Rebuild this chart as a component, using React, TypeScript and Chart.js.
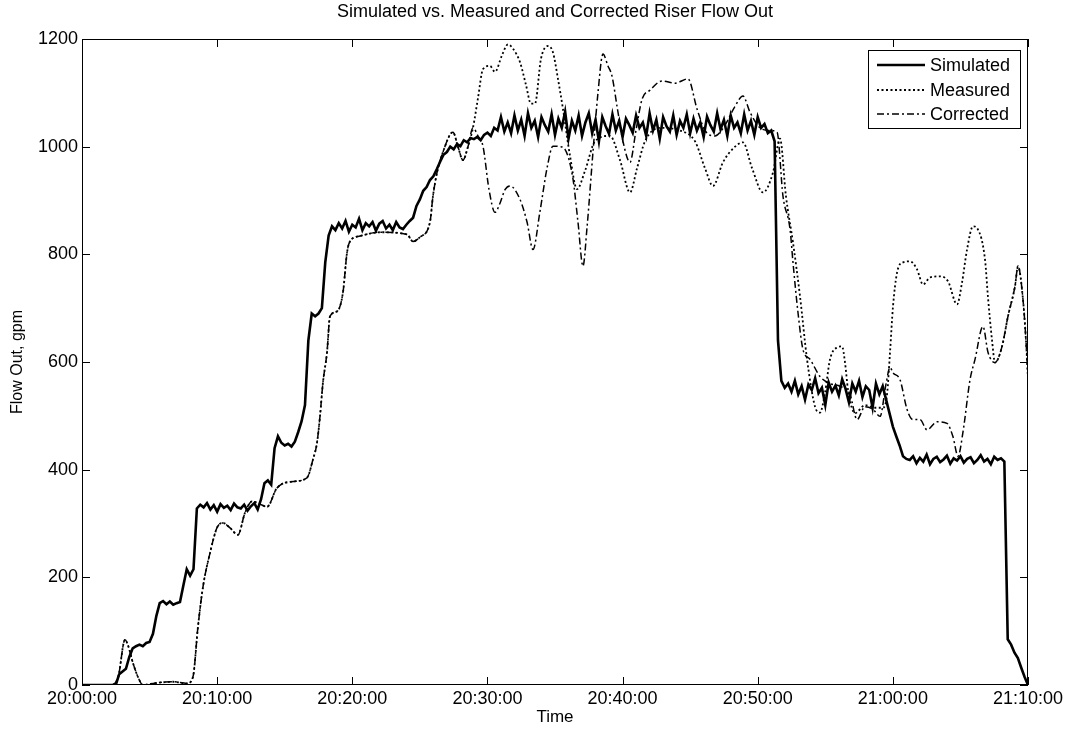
import React, { useEffect, useRef } from 'react';
import { Chart, registerables } from 'chart.js';

Chart.register(...registerables);

const FONT = "'Liberation Sans', Arial, Helvetica, sans-serif";

const chartTitle = 'Simulated vs. Measured and Corrected Riser Flow Out';
const xAxisTitle = 'Time';
const yAxisTitle = 'Flow Out, gpm';
const seriesNames = ['Simulated', 'Measured', 'Corrected'];

// x axis: minutes after 20:00:00
const xTickMinutes = [0, 10, 20, 30, 40, 50, 60, 70];
const yTickValues = [0, 200, 400, 600, 800, 1000, 1200];

// Simulated flow, sampled every 0.25 min from 20:00:00
const SIM_STEP_MIN = 0.25;
const simRampLow = [
  0, 0, 0, 0, 0, 0, 0, 0, 0, 0, 0,
  20, 25, 30, 52, 68, 72, 75, 72, 78, 80, 95, 128, 152, 156, 150, 155, 149, 152, 154,
  185, 215, 203, 215, 328, 335, 330,
];
const simPlateau330 = [338, 326, 334, 322, 336, 329, 333, 325, 337, 330, 328, 335, 324, 332, 338, 326];
const simRampMid = [
  345, 375, 380, 372, 440, 462, 450, 445, 448, 443, 452, 470, 490, 520, 640, 690, 685, 690, 700, 785, 835, 852,
];
const simPlateau850 = [
  845, 858, 848, 862, 842, 855, 850, 866, 845, 858, 852, 860, 844, 857, 862, 848, 855, 845, 860, 850, 847, 855,
];
const simRampHigh = [
  862, 868, 890, 902, 918, 925, 938, 945, 958, 972, 985, 990, 1000, 995, 1005, 1001, 1012, 1008, 1016, 1014,
  1018, 1012, 1022, 1026, 1020, 1035, 1030, 1055, 1028,
];
const simPlateau1040 = [
  1045, 1025, 1058, 1030, 1050, 1020, 1062, 1035, 1048, 1018, 1055, 1040, 1028, 1060, 1022, 1052, 1035, 1065, 1015, 1048,
  1030, 1058, 1020, 1045, 1062, 1025, 1050, 1010, 1055, 1038, 1024, 1060, 1030, 1048, 1018, 1052, 1040, 1026, 1058, 1035,
  1045, 1020, 1062, 1030, 1050, 1015, 1055, 1038, 1028, 1058, 1022, 1048, 1035, 1060, 1025, 1052, 1030, 1045, 1018, 1056,
  1040, 1028, 1062, 1032, 1050, 1020, 1058, 1035, 1045, 1025, 1060, 1030, 1048, 1022, 1055, 1035, 1042, 1025, 1030,
];
const simDrop1 = [1010, 640, 565, 552];
const simPlateau550 = [
  560, 545, 565, 540, 555, 530, 558, 548, 570, 542, 552, 520, 562, 545, 556, 538, 568, 550, 525, 560,
  545, 565, 535, 555, 548, 515, 560, 540, 555,
];
const simDrop2 = [530, 505, 480, 462, 445, 425, 420];
const simPlateau420 = [
  418, 425, 412, 422, 415, 428, 410, 420, 424, 414, 419, 426, 411, 421, 417, 425, 413, 420, 423, 412,
  418, 427, 415, 420, 410, 424, 418, 421,
];
const simDrop3 = [415, 85, 75, 60, 50, 32, 15, 0];

// Measured and corrected coincide until about 20:29
const sharedTime = [
  0, 2.07, 2.66, 3.18, 3.4, 3.77, 4.14, 4.51, 5.25, 6.73, 7.77, 8.21, 8.58, 8.95, 9.47, 9.99, 10.43, 10.95,
  11.54, 12.06, 12.58, 13.17, 13.69, 14.43, 15.61, 16.65, 17.09, 17.39, 17.61, 17.83, 18.13, 18.35, 18.87,
  19.31, 19.61, 19.83, 20.57, 22.05, 24.05, 24.49, 25.01, 25.75, 25.97, 26.27, 26.71, 27.45, 27.82, 28.19,
  28.56, 28.93,
];
const sharedFlow = [
  0, 0, 13, 84, 74, 41, 15, 0, 3, 6, 3, 15, 108, 182, 245, 292, 301, 292,
  279, 320, 341, 336, 331, 366, 378, 385, 419, 450, 499, 562, 618, 685, 694,
  729, 803, 824, 834, 841, 837, 824, 832, 860, 908, 952, 990, 1027, 1000, 975,
  1000, 1035,
];

const measuredTime = [
  29.3, 29.67, 30.19, 30.56, 31.08, 31.52, 31.89, 32.41, 32.85, 33.22, 33.52, 33.96, 34.48, 34.85, 35.22,
  35.59, 36.11, 36.63, 37.22, 37.96, 39.07, 39.81, 40.55, 41.07, 41.66, 42.77, 44.25, 45.36, 46.1, 46.69,
  47.43, 48.32, 48.91, 49.58, 50.39, 51.13, 51.65, 52.09, 52.61, 53.13, 53.65, 54.24, 54.61, 54.98, 55.35,
  55.87, 56.24, 56.46, 56.68, 57.2, 57.94, 58.68, 59.27, 59.57, 59.79, 60.01, 60.31, 60.75, 61.27, 61.79,
  62.23, 62.75, 63.49, 64.08, 64.75, 65.12, 65.49, 65.93, 66.3, 66.82, 67.04, 67.34, 67.56, 68.08, 68.52,
  69.04, 69.26, 69.63, 69.85, 70,
];
const measuredFlow = [
  1090, 1144, 1150, 1139, 1170, 1190, 1182, 1157, 1115, 1080, 1080, 1163, 1187, 1175, 1126,
  1070, 983, 921, 955, 1010, 1020, 975, 915, 960, 1010, 1035, 1030, 1010, 960, 927,
  971, 1000, 1008, 960, 915, 952, 1015, 908, 822, 722, 605, 517, 506, 543, 605,
  627, 629, 599, 549, 505, 520, 515, 515, 540, 618, 703, 766, 785, 787, 772,
  744, 757, 759, 750, 707, 748, 809, 852, 846, 790, 720, 640, 599, 629, 685,
  741, 778, 716, 640, 570,
];

const correctedTime = [
  29.3, 29.67, 30.12, 30.56, 30.93, 31.3, 31.67, 32.41, 32.93, 33.37, 33.89, 34.41, 34.85, 35.37, 35.74,
  36.33, 36.7, 37.07, 37.37, 37.81, 38.18, 38.55, 38.92, 39.22, 39.59, 40.03, 40.55, 40.99, 41.44, 42.03,
  42.92, 43.88, 44.84, 45.51, 46.1, 46.84, 47.58, 48.32, 48.91, 49.43, 50.17, 50.91, 51.43, 51.87, 52.39,
  52.61, 52.98, 53.35, 53.87, 54.61, 55.35, 56.09, 56.83, 57.35, 57.94, 58.53, 59.05, 59.5, 59.79, 60.01,
  60.53, 61.05, 61.49, 62.01, 62.53, 63.27, 64.01, 64.45, 64.82, 65.19, 65.71, 66.08, 66.67, 67.04, 67.56,
  68.08, 68.52, 69.04, 69.26, 69.63, 69.85, 70,
];
const correctedFlow = [
  1020, 1001, 920, 878, 895, 920, 927, 902, 860, 809, 880, 960, 1001, 1000, 995,
  940, 860, 778, 850, 990, 1100, 1172, 1150, 1131, 1075, 1010, 971, 1030, 1088, 1105,
  1122, 1118, 1126, 1070, 1030, 1020, 1040, 1075, 1094, 1064, 1035, 1030, 1027, 908, 847,
  785, 692, 623, 605, 573, 560, 555, 540, 493, 517, 512, 499, 560, 590, 580,
  567, 512, 493, 493, 474, 489, 486, 461, 425, 470, 567, 605, 666, 618, 599,
  629, 685, 741, 778, 716, 640, 570,
];

const simulatedFlow = [
  ...simRampLow, ...simPlateau330, ...simRampMid, ...simPlateau850, ...simRampHigh,
  ...simPlateau1040, ...simDrop1, ...simPlateau550, ...simDrop2, ...simPlateau420, ...simDrop3,
];

const toPoints = (times: number[], values: number[]) => values.map((v, i) => ({ x: times[i], y: v }));

const formatClock = (minutes: number) => {
  const h = 20 + Math.floor(minutes / 60);
  const m = Math.round(minutes % 60);
  return `${h}:${String(m).padStart(2, '0')}:00`;
};

const framePlugin = {
  id: 'frameAndLegend',
  afterDatasetsDraw(chart: any) {
    const { ctx, chartArea, scales } = chart;
    const { left, right, top, bottom } = chartArea;
    const tick = 8;
    ctx.save();
    ctx.strokeStyle = '#000';
    ctx.lineWidth = 1;
    ctx.setLineDash([]);
    ctx.strokeRect(left + 0.5, top + 0.5, right - left - 1, bottom - top - 1);
    ctx.beginPath();
    xTickMinutes.forEach((v) => {
      const px = Math.round(scales.x.getPixelForValue(v)) + 0.5;
      ctx.moveTo(px, bottom);
      ctx.lineTo(px, bottom - tick);
      ctx.moveTo(px, top);
      ctx.lineTo(px, top + tick);
    });
    yTickValues.forEach((v) => {
      const py = Math.round(scales.y.getPixelForValue(v)) + 0.5;
      ctx.moveTo(left, py);
      ctx.lineTo(left + tick, py);
      ctx.moveTo(right, py);
      ctx.lineTo(right - tick, py);
    });
    ctx.stroke();

    // legend box
    const bx = 868, by = 50, bw = 152, bh = 78;
    ctx.fillStyle = '#fff';
    ctx.fillRect(bx, by, bw, bh);
    ctx.strokeRect(bx + 0.5, by + 0.5, bw, bh);
    const rows = [65, 90, 114];
    chart.data.datasets.forEach((ds: any, i: number) => {
      const y = rows[i];
      ctx.save();
      ctx.strokeStyle = ds.borderColor;
      ctx.lineWidth = ds.borderWidth;
      ctx.setLineDash(ds.borderDash || []);
      ctx.beginPath();
      ctx.moveTo(877, y);
      ctx.lineTo(925, y);
      ctx.stroke();
      ctx.restore();
      ctx.fillStyle = '#000';
      ctx.font = `18px ${FONT}`;
      ctx.textBaseline = 'middle';
      ctx.textAlign = 'left';
      ctx.fillText(ds.label, 930, y + 1);
    });
    ctx.restore();
  },
};

export default function App() {
  const canvasRef = useRef<HTMLCanvasElement | null>(null);

  useEffect(() => {
    document.body.style.margin = '0';
    document.body.style.background = '#fff';
    const canvas = canvasRef.current;
    if (!canvas) return;
    const simTimes = simulatedFlow.map((_, i) => i * SIM_STEP_MIN);
    const chart = new Chart(canvas, {
      type: 'line',
      data: {
        datasets: [
          {
            label: seriesNames[0],
            data: toPoints(simTimes, simulatedFlow),
            borderColor: '#000',
            borderWidth: 2.6,
            pointRadius: 0,
            tension: 0,
            order: 1,
          },
          {
            label: seriesNames[1],
            data: toPoints([...sharedTime, ...measuredTime], [...sharedFlow, ...measuredFlow]),
            borderColor: '#000',
            borderWidth: 1.8,
            borderDash: [2, 2.5],
            pointRadius: 0,
            cubicInterpolationMode: 'monotone',
            order: 2,
          },
          {
            label: seriesNames[2],
            data: toPoints([...sharedTime, ...correctedTime], [...sharedFlow, ...correctedFlow]),
            borderColor: '#000',
            borderWidth: 1.5,
            borderDash: [7, 3, 2, 3],
            pointRadius: 0,
            cubicInterpolationMode: 'monotone',
            order: 3,
          },
        ],
      },
      options: {
        animation: false,
        responsive: false,
        maintainAspectRatio: false,
        layout: { padding: { left: 0, right: 41, top: 0, bottom: 0 } },
        plugins: {
          legend: { display: false },
          tooltip: { enabled: false },
          title: {
            display: true,
            fullSize: false,
            text: chartTitle,
            color: '#000',
            font: { family: FONT, size: 18, weight: 'normal' },
            padding: { top: 1.2, bottom: 16.2 },
          },
        },
        scales: {
          x: {
            type: 'linear',
            min: 0,
            max: 70,
            afterBuildTicks: (scale: any) => {
              scale.ticks = xTickMinutes.map((v) => ({ value: v }));
            },
            ticks: {
              color: '#000',
              font: { family: FONT, size: 18 },
              padding: 3,
              maxRotation: 0,
              autoSkip: false,
              callback: (v: any) => formatClock(Number(v)),
            },
            grid: { display: false, drawTicks: false },
            border: { display: false },
            title: {
              display: true,
              text: xAxisTitle,
              color: '#000',
              font: { family: FONT, size: 17 },
              padding: { top: 0, bottom: 6 },
            },
            afterFit: (scale: any) => {
              scale.height = 49;
            },
          },
          y: {
            type: 'linear',
            min: 0,
            max: 1200,
            afterBuildTicks: (scale: any) => {
              scale.ticks = yTickValues.map((v) => ({ value: v }));
            },
            ticks: {
              color: '#000',
              font: { family: FONT, size: 18 },
              padding: 4,
              callback: (v: any) => String(v),
            },
            grid: { display: false, drawTicks: false },
            border: { display: false },
            title: {
              display: true,
              text: yAxisTitle,
              color: '#000',
              font: { family: FONT, size: 16 },
              padding: { top: 8, bottom: 0 },
            },
            afterFit: (scale: any) => {
              scale.width = 82;
            },
          },
        },
      },
      plugins: [framePlugin],
    } as any);
    return () => chart.destroy();
  }, []);

  return (
    <div style={{ width: 1069, height: 734, background: '#fff' }}>
      <canvas ref={canvasRef} width={1069} height={734} style={{ display: 'block' }} />
    </div>
  );
}
